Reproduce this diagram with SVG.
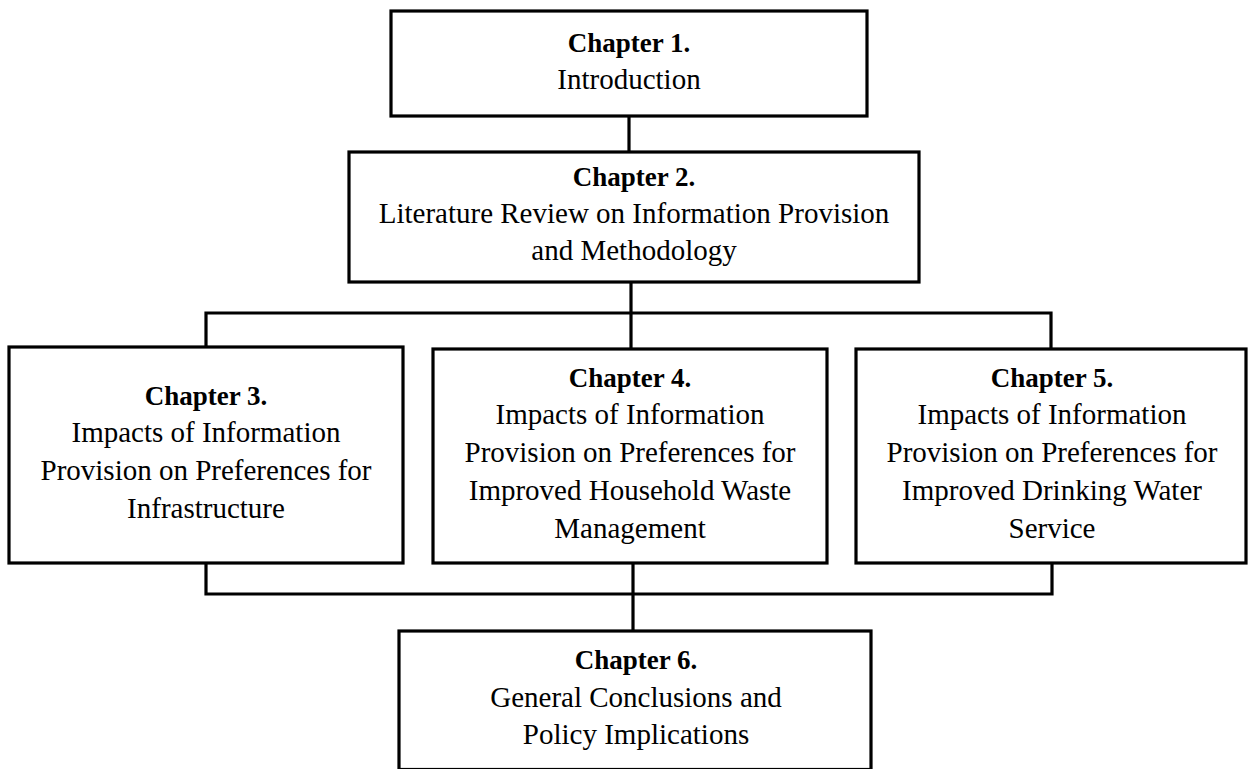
<svg xmlns="http://www.w3.org/2000/svg" width="1248" height="769" viewBox="0 0 1248 769">
<style>
.box{fill:#ffffff;stroke:#000000;stroke-width:3.2}
.ln{fill:none;stroke:#000000;stroke-width:3.2}
text{font-family:"Liberation Serif","Times New Roman",serif;fill:#000000;text-anchor:middle}
.t{font-weight:bold;font-size:27px}
.b{font-size:29px}
</style>
<rect width="1248" height="769" fill="#ffffff"/>
<g id="connectors">
<line class="ln" x1="629" y1="116" x2="629" y2="152"/>
<line class="ln" x1="631" y1="282" x2="631" y2="349"/>
<polyline class="ln" points="206,347 206,313 1051,313 1051,349"/>
<polyline class="ln" points="206,563 206,594 1052,594 1052,563"/>
<line class="ln" x1="633" y1="563" x2="633" y2="631"/>
</g>
<g id="ch1">
<rect class="box" x="391" y="11" width="476" height="105"/>
<text class="t" x="629" y="52">Chapter 1.</text>
<text class="b" x="629" y="89">Introduction</text>
</g>
<g id="ch2">
<rect class="box" x="349" y="152" width="570" height="130"/>
<text class="t" x="634" y="186">Chapter 2.</text>
<text class="b" x="634" y="223">Literature Review on Information Provision</text>
<text class="b" x="634" y="260">and Methodology</text>
</g>
<g id="ch3">
<rect class="box" x="9" y="347" width="394" height="216"/>
<text class="t" x="206" y="405">Chapter 3.</text>
<text class="b" x="206" y="442">Impacts of Information</text>
<text class="b" x="206" y="480">Provision on Preferences for</text>
<text class="b" x="206" y="518">Infrastructure</text>
</g>
<g id="ch4">
<rect class="box" x="433" y="349" width="394" height="214"/>
<text class="t" x="630" y="387">Chapter 4.</text>
<text class="b" x="630" y="424">Impacts of Information</text>
<text class="b" x="630" y="462">Provision on Preferences for</text>
<text class="b" x="630" y="500">Improved Household Waste</text>
<text class="b" x="630" y="538">Management</text>
</g>
<g id="ch5">
<rect class="box" x="856" y="349" width="390" height="214"/>
<text class="t" x="1052" y="387">Chapter 5.</text>
<text class="b" x="1052" y="424">Impacts of Information</text>
<text class="b" x="1052" y="462">Provision on Preferences for</text>
<text class="b" x="1052" y="500">Improved Drinking Water</text>
<text class="b" x="1052" y="538">Service</text>
</g>
<g id="ch6">
<rect class="box" x="399" y="631" width="472" height="138.5"/>
<text class="t" x="636" y="669">Chapter 6.</text>
<text class="b" x="636" y="707">General Conclusions and</text>
<text class="b" x="636" y="744">Policy Implications</text>
</g>
</svg>
